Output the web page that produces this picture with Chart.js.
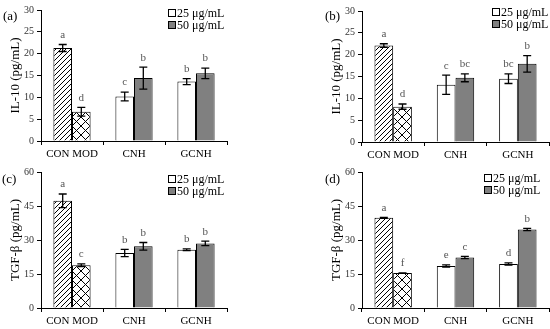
<!DOCTYPE html>
<html>
<head>
<meta charset="utf-8">
<script src="https://cdn.jsdelivr.net/npm/chart.js@4.4.0/dist/chart.umd.min.js"></script>
<style>
  html, body { margin: 0; padding: 0; background: #fff; }
  #wrap { position: relative; width: 550px; height: 329px; overflow: hidden; }
  canvas { position: absolute; }
</style>
</head>
<body>
<div id="wrap">
  <canvas id="pa" width="275" height="165" style="left:0;top:0;width:275px;height:165px"></canvas>
  <canvas id="pb" width="229" height="165" style="left:321px;top:0;width:229px;height:165px"></canvas>
  <canvas id="pc" width="275" height="166" style="left:0;top:163px;width:275px;height:166px"></canvas>
  <canvas id="pd" width="229" height="166" style="left:321px;top:163px;width:229px;height:166px"></canvas>
</div>
<script>
const categories = ['CON MOD', 'CNH', 'GCNH'];
const doses = ['25 μg/mL', '50 μg/mL'];

// (a) IL-10
const a25 = [21.3, 10.2, 13.6];
const a50 = [6.7, 14.4, 15.5];
const a25err = [0.8, 1.0, 0.7];
const a50err = [1.0, 2.5, 1.2];
const a25sig = ['a', 'c', 'b'];
const a50sig = ['d', 'b', 'b'];

// (b) IL-10
const b25 = [22.1, 13.1, 14.5];
const b50 = [8.1, 14.7, 17.9];
const b25err = [0.4, 2.2, 1.1];
const b50err = [0.6, 0.9, 1.9];
const b25sig = ['a', 'c', 'bc'];
const b50sig = ['d', 'bc', 'b'];

// (c) TGF-β
const c25 = [47.3, 24.3, 25.7];
const c50 = [18.9, 27.2, 28.5];
const c25err = [3.0, 1.6, 0.4];
const c50err = [0.6, 1.7, 1.0];
const c25sig = ['a', 'b', 'b'];
const c50sig = ['c', 'b', 'b'];

// (d) TGF-β
const d25 = [39.8, 18.5, 19.4];
const d50 = [15.4, 22.3, 34.6];
const d25err = [0.2, 0.5, 0.5];
const d50err = [0.1, 0.5, 0.5];
const d25sig = ['a', 'e', 'd'];
const d50sig = ['f', 'c', 'b'];

const serif = "'Liberation Serif', 'Times New Roman', serif";

function makePattern(size, draw) {
  const c = document.createElement('canvas');
  c.width = c.height = size;
  const g = c.getContext('2d');
  g.fillStyle = '#fff';
  g.fillRect(0, 0, size, size);
  g.strokeStyle = '#000';
  g.lineWidth = 1;
  draw(g, size);
  return g.createPattern(c, 'repeat');
}

const stripes = makePattern(5, (g, s) => {
  g.beginPath();
  g.moveTo(-1, s + 1); g.lineTo(s + 1, -1);
  g.moveTo(-1, 1); g.lineTo(1, -1);
  g.moveTo(s - 1, s + 1); g.lineTo(s + 1, s - 1);
  g.stroke();
});

const cross = makePattern(9, (g, s) => {
  g.beginPath();
  g.moveTo(0, 0); g.lineTo(s, s);
  g.moveTo(0, s); g.lineTo(s, 0);
  g.stroke();
});

const extras = {
  id: 'extras',
  afterDatasetsDraw(chart, args, opts) {
    const ctx = chart.ctx;
    const y = chart.scales.y;
    ctx.save();
    chart.data.datasets.forEach((ds, i) => {
      const meta = chart.getDatasetMeta(i);
      meta.data.forEach((bar, j) => {
        const v = ds.data[j];
        const e = opts.errors[i][j];
        const top = y.getPixelForValue(v + e);
        const bot = y.getPixelForValue(v - e);
        ctx.strokeStyle = '#000';
        ctx.lineWidth = 1.3;
        ctx.beginPath();
        ctx.moveTo(bar.x, top); ctx.lineTo(bar.x, bot);
        ctx.moveTo(bar.x - 4, top); ctx.lineTo(bar.x + 4, top);
        ctx.moveTo(bar.x - 4, bot); ctx.lineTo(bar.x + 4, bot);
        ctx.stroke();
        ctx.fillStyle = '#555';
        ctx.font = '11px ' + serif;
        ctx.textAlign = 'center';
        ctx.textBaseline = 'bottom';
        ctx.fillText(opts.sig[i][j], bar.x, top - 4);
      });
    });
    ctx.restore();
  },
  afterDraw(chart, args, opts) {
    const ctx = chart.ctx;
    ctx.save();
    ctx.font = '13px ' + serif;
    ctx.fillStyle = '#000';
    ctx.textBaseline = 'middle';
    ctx.textAlign = 'left';
    ctx.fillText(opts.tag, opts.tagX, opts.tagY);
    ctx.font = '12px ' + serif;
    chart.data.datasets.forEach((ds, i) => {
      const ly = opts.legY + i * 12;
      ctx.fillStyle = ds.legendFill;
      ctx.fillRect(opts.legX, ly - 3.5, 7, 7);
      ctx.strokeStyle = '#000';
      ctx.lineWidth = 1;
      ctx.strokeRect(opts.legX + 0.5, ly - 3.5, 7, 7);
      ctx.fillStyle = '#000';
      ctx.fillText(ds.label, opts.legX + 9, ly + 1);
    });
    ctx.restore();
  }
};

function panel(id, p) {
  const cv = document.getElementById(id);
  new Chart(cv, {
    type: 'bar',
    data: {
      labels: categories,
      datasets: [
        { label: doses[0], data: p.v25, backgroundColor: [stripes, '#fff', '#fff'], legendFill: '#fff',
          borderColor: '#000', borderWidth: 1, categoryPercentage: 0.6, barPercentage: 1.0 },
        { label: doses[1], data: p.v50, backgroundColor: [cross, '#808080', '#808080'], legendFill: '#808080',
          borderColor: '#000', borderWidth: 1, categoryPercentage: 0.6, barPercentage: 1.0 }
      ]
    },
    options: {
      responsive: false,
      animation: false,
      events: [],
      layout: { padding: { left: 0, right: p.right, top: p.top, bottom: 0 } },
      plugins: {
        legend: { display: false },
        tooltip: { enabled: false },
        extras: {
          errors: [p.e25, p.e50],
          sig: [p.s25, p.s50],
          tag: p.tag, tagX: p.tagX, tagY: p.tagY,
          legX: p.legX, legY: p.legY
        }
      },
      scales: {
        x: {
          afterFit: (s) => { s.height = p.xh; },
          grid: { offset: true, drawOnChartArea: false, tickLength: 4, color: '#000' },
          border: { display: true, color: '#000', width: 1 },
          ticks: { font: { family: serif, size: 11 }, color: '#000', padding: 3, maxRotation: 0 }
        },
        y: {
          min: 0,
          max: p.max,
          afterFit: (s) => { s.width = 41; },
          grid: { drawOnChartArea: false, tickLength: 4, color: '#000' },
          border: { display: true, color: '#000', width: 1 },
          ticks: { stepSize: p.step, font: { family: serif, size: 10 }, color: '#333', padding: 3 },
          title: { display: true, text: p.title, font: { family: serif, size: 13 }, color: '#000', padding: { top: 8, bottom: 0 } }
        }
      }
    },
    plugins: [extras]
  });
}

panel('pa', { v25: a25, v50: a50, e25: a25err, e50: a50err, s25: a25sig, s50: a50sig,
  max: 30, step: 5, title: 'IL-10 (pg/mL)', right: 48, top: 10, xh: 24,
  tag: '(a)', tagX: 3, tagY: 17, legX: 168, legY: 13 });
panel('pb', { v25: b25, v50: b50, e25: b25err, e50: b50err, s25: b25sig, s50: b50sig,
  max: 30, step: 5, title: 'IL-10 (pg/mL)', right: 1, top: 11, xh: 23,
  tag: '(b)', tagX: 4, tagY: 17, legX: 171, legY: 12 });
panel('pc', { v25: c25, v50: c50, e25: c25err, e50: c50err, s25: c25sig, s50: c50sig,
  max: 60, step: 15, title: 'TGF-β (pg/mL)', right: 48, top: 9, xh: 21,
  tag: '(c)', tagX: 2, tagY: 17, legX: 168, legY: 16 });
panel('pd', { v25: d25, v50: d50, e25: d25err, e50: d50err, s25: d25sig, s50: d50sig,
  max: 60, step: 15, title: 'TGF-β (pg/mL)', right: 1, top: 9, xh: 21,
  tag: '(d)', tagX: 4, tagY: 17, legX: 163, legY: 15 });
</script>
</body>
</html>
